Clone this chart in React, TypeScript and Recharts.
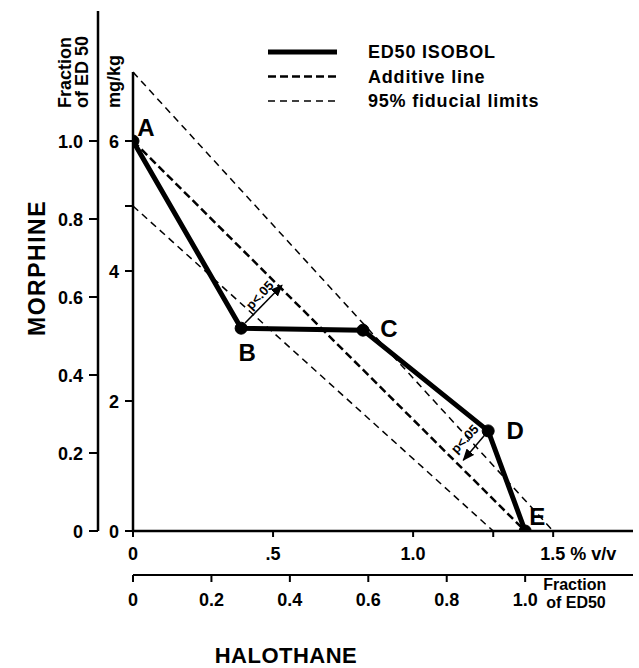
import React from 'react';
import {
  LineChart,
  Line,
  XAxis,
  YAxis,
  ReferenceLine,
  ReferenceDot,
  Customized,
} from 'recharts';

// isobologram: halothane (% v/v) vs morphine (mg/kg)
const pointNames = ['A', 'B', 'C', 'D', 'E'];
const isobolPct = [0, 0.386, 0.821, 1.268, 1.4];
const isobolMg = [6.0, 3.12, 3.09, 1.54, 0];

const additivePct = [0, 1.4];
const additiveMg = [6.0, 0];
const upperPct = [0, 1.5];
const upperMg = [7.06, 0];
const lowerPct = [0, 1.286];
const lowerMg = [5.0, 0];

const arrowBPct = [0.4, 0.532];
const arrowBMg = [3.2, 3.78];
const arrowDPct = [1.268, 1.179];
const arrowDMg = [1.54, 1.09];
const pLabelPct = [0.464, 1.196];
const pLabelMg = [3.58, 1.37];

const halothaneED50 = 1.4;
const morphineED50 = 6;
const pctMax = 1.785;
const mgMax = 8;

const pctTicks = [0, 0.5, 1.0, 1.286, 1.5];
const fracTicks = [0, 0.2, 0.4, 0.6, 0.8, 1.0];
const mgTicks = [0, 2, 4, 5, 6];
const legendLabels = ['ED50  ISOBOL', 'Additive line', '95% fiducial limits'];

const zip = (xs: number[], ys: number[]) => xs.map((x, i) => ({ x, y: ys[i] }));
const fracDummy = zip([0, pctMax / halothaneED50], [0, 0]);

const FONT = '"Liberation Sans", Arial, sans-serif';
const txt = { fontFamily: FONT, fontWeight: 700, fill: '#000' } as const;

const labelShift: Record<string, [number, number]> = {
  A: [13, -5],
  B: [6, 33],
  C: [26, 7],
  D: [27, 8],
  E: [12, -6],
};

const PctTick = ({ x, y, payload }: any) => {
  const v = payload.value;
  if (v === 1.286) return null;
  if (v === 1.5)
    return (
      <text x={x - 13} y={y + 21} fontSize={18} {...txt}>
        1.5 % v/v
      </text>
    );
  const s = v === 0 ? '0' : v === 0.5 ? '.5' : v.toFixed(1);
  return (
    <text x={x} y={y + 21} fontSize={18} textAnchor="middle" {...txt}>
      {s}
    </text>
  );
};

const FracXTick = ({ x, y, payload }: any) => {
  const v = payload.value;
  const s = v === 0 ? '0' : v.toFixed(1);
  return (
    <g>
      <text x={x} y={y + 22} fontSize={18} textAnchor="middle" {...txt}>
        {s}
      </text>
      {v === 1 && (
        <g>
          <text x={x + 18} y={y + 6} fontSize={16} {...txt}>
            Fraction
          </text>
          <text x={x + 21} y={y + 24} fontSize={16} {...txt}>
            of  ED50
          </text>
        </g>
      )}
    </g>
  );
};

const MgTick = ({ x, y, payload }: any) => {
  if (payload.value === 5) return null;
  return (
    <text x={x - 4} y={y + 7} fontSize={18} textAnchor="end" {...txt}>
      {payload.value}
    </text>
  );
};

const FracYTick = ({ x, y, payload }: any) => {
  const v = payload.value;
  return (
    <text x={x - 4} y={y + 7} fontSize={18} textAnchor="end" {...txt}>
      {v === 0 ? '0' : v.toFixed(1)}
    </text>
  );
};

const Extras = () => (
  <g>
    <defs>
      <marker
        id="arrowHead"
        markerUnits="userSpaceOnUse"
        markerWidth={12}
        markerHeight={10}
        refX={11}
        refY={5}
        orient="auto"
      >
        <path d="M0,0 L12,5 L0,10 z" fill="#000" />
      </marker>
    </defs>
    {/* legend */}
    {legendLabels.map((label, i) => {
      const y = 52 + i * 24.5;
      const style =
        i === 0
          ? { strokeWidth: 5 }
          : i === 1
          ? { strokeWidth: 2.5, strokeDasharray: '8 4' }
          : { strokeWidth: 1.5, strokeDasharray: '7 5' };
      return (
        <g key={label}>
          <line x1={268} x2={337} y1={y} y2={y} stroke="#000" {...style} />
          <text x={368} y={y + 6} fontSize={18} letterSpacing={0.8} {...txt}>
            {label}
          </text>
        </g>
      );
    })}
    {/* axis titles */}
    <text transform="translate(45 268) rotate(-90)" fontSize={23} letterSpacing={1.5} textAnchor="middle" {...txt}>
      MORPHINE
    </text>
    <text x={286} y={663} fontSize={22} letterSpacing={0.5} textAnchor="middle" {...txt}>
      HALOTHANE
    </text>
    <text transform="translate(71 108) rotate(-90)" fontSize={18} {...txt}>
      Fraction
    </text>
    <text transform="translate(88 108) rotate(-90)" fontSize={18} {...txt}>
      of ED 50
    </text>
    <text transform="translate(120 108) rotate(-90)" fontSize={18} {...txt}>
      mg/kg
    </text>
  </g>
);

const PointLabel = ({ x, y, index }: any) => {
  const name = pointNames[index];
  const [dx, dy] = labelShift[name];
  return (
    <text x={x + dx} y={y + dy} fontSize={24} textAnchor="middle" {...txt}>
      {name}
    </text>
  );
};

const PText = ({ cx, cy }: any) => (
  <text
    x={cx}
    y={cy}
    fontSize={13}
    textAnchor="middle"
    transform={`rotate(-47 ${cx} ${cy})`}
    {...txt}
  >
    p&lt;.05
  </text>
);

const axisLine = { stroke: '#000', strokeWidth: 2.5 };
const tickLine = { stroke: '#000', strokeWidth: 2 };

// axis ids are ordered so that "a_" axes sit next to the plot
export default function App() {
  return (
    <div style={{ position: 'absolute', left: 0, top: 0, background: '#fff' }}>
      <LineChart width={639} height={668} margin={{ top: 11, right: 6, bottom: 43, left: 8 }}>
        <XAxis
          xAxisId="a_pct"
          dataKey="x"
          type="number"
          domain={[0, pctMax]}
          ticks={pctTicks}
          height={44}
          axisLine={axisLine}
          tickLine={tickLine}
          tickSize={6}
          tick={<PctTick />}
          interval={0}
          allowDataOverflow
        />
        <XAxis
          xAxisId="b_frac"
          dataKey="x"
          type="number"
          domain={[0, pctMax / halothaneED50]}
          ticks={fracTicks}
          height={50}
          axisLine={{ stroke: '#000', strokeWidth: 2 }}
          tickLine={tickLine}
          tickSize={7}
          tick={<FracXTick />}
          interval={0}
          allowDataOverflow
        />
        <YAxis
          yAxisId="a_mg"
          type="number"
          domain={[0, mgMax]}
          ticks={mgTicks}
          width={35}
          axisLine={false}
          tickLine={tickLine}
          tickSize={8}
          tick={<MgTick />}
          interval={0}
          allowDataOverflow
        />
        <YAxis
          yAxisId="b_frac"
          type="number"
          domain={[0, mgMax / morphineED50]}
          ticks={fracTicks}
          width={90}
          axisLine={axisLine}
          tickLine={tickLine}
          tickSize={9}
          tick={<FracYTick />}
          interval={0}
          allowDataOverflow
        />
        <ReferenceLine
          xAxisId="a_pct"
          yAxisId="a_mg"
          segment={[{ x: 0, y: 0 }, { x: 0, y: upperMg[0] }]}
          stroke="#000"
          strokeWidth={2.5}
          ifOverflow="visible"
        />
        {/* invisible series so the fraction axes get a domain */}
        <Line
          xAxisId="b_frac"
          yAxisId="b_frac"
          data={fracDummy}
          dataKey="y"
          stroke="none"
          dot={false}
          isAnimationActive={false}
        />
        <Line
          xAxisId="a_pct"
          yAxisId="a_mg"
          data={zip(upperPct, upperMg)}
          dataKey="y"
          type="linear"
          stroke="#000"
          strokeWidth={1.5}
          strokeDasharray="7 5"
          dot={false}
          isAnimationActive={false}
        />
        <Line
          xAxisId="a_pct"
          yAxisId="a_mg"
          data={zip(lowerPct, lowerMg)}
          dataKey="y"
          type="linear"
          stroke="#000"
          strokeWidth={1.5}
          strokeDasharray="7 5"
          dot={false}
          isAnimationActive={false}
        />
        <Line
          xAxisId="a_pct"
          yAxisId="a_mg"
          data={zip(additivePct, additiveMg)}
          dataKey="y"
          type="linear"
          stroke="#000"
          strokeWidth={2.5}
          strokeDasharray="8 4"
          dot={false}
          isAnimationActive={false}
        />
        <Line
          xAxisId="a_pct"
          yAxisId="a_mg"
          data={zip(arrowBPct, arrowBMg)}
          dataKey="y"
          type="linear"
          stroke="#000"
          strokeWidth={1.5}
          markerEnd="url(#arrowHead)"
          dot={false}
          isAnimationActive={false}
        />
        <Line
          xAxisId="a_pct"
          yAxisId="a_mg"
          data={zip(arrowDPct, arrowDMg)}
          dataKey="y"
          type="linear"
          stroke="#000"
          strokeWidth={1.5}
          markerEnd="url(#arrowHead)"
          dot={false}
          isAnimationActive={false}
        />
        <Line
          xAxisId="a_pct"
          yAxisId="a_mg"
          data={zip(isobolPct, isobolMg)}
          dataKey="y"
          type="linear"
          stroke="#000"
          strokeWidth={5}
          dot={{ r: 6, fill: '#000', stroke: '#000', strokeWidth: 1 }}
          label={<PointLabel />}
          isAnimationActive={false}
        />
        {pLabelPct.map((x, i) => (
          <ReferenceDot
            key={i}
            xAxisId="a_pct"
            yAxisId="a_mg"
            x={x}
            y={pLabelMg[i]}
            ifOverflow="visible"
            shape={<PText />}
          />
        ))}
        <Customized component={<Extras />} />
      </LineChart>
    </div>
  );
}
